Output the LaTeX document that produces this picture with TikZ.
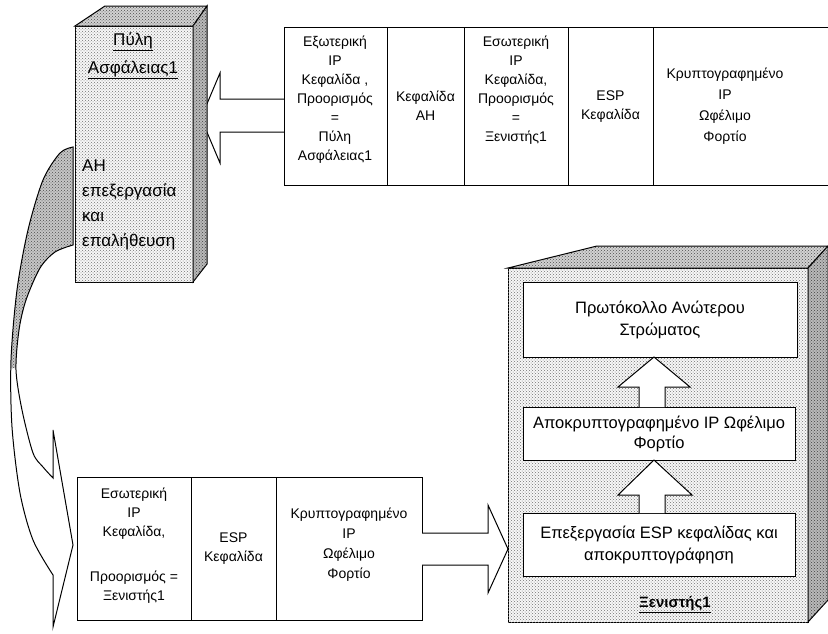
\documentclass[tikz,border=0pt]{standalone}
\usepackage{fontspec}
\setmainfont{Liberation Sans}
\usetikzlibrary{patterns,calc}
\begin{document}
\begin{tikzpicture}[x=1pt,y=-1pt,
  line join=miter,
  edge/.style={draw=black, line width=1pt},
  frontface/.style={edge, fill=gray!6, postaction={pattern=crosshatch dots, pattern color=black!55}},
  sideface/.style={edge, fill=gray!55, postaction={pattern=crosshatch dots, pattern color=black!75}},
  topface/.style={edge, fill=gray!35, postaction={pattern=crosshatch dots, pattern color=black!70}},
  ribbon/.style={fill=gray!45, postaction={pattern=crosshatch dots, pattern color=black!70}},
  cellbox/.style={draw, line width=1pt, fill=white, inner sep=0pt, outer sep=0pt},
  blockarrow/.style={edge, fill=white},
  pkt/.style={align=center, inner sep=0pt, font=\fontsize{14}{19}\selectfont},
  hosttext/.style={align=center, font=\fontsize{16.5}{22}\selectfont},
  gwtext/.style={inner sep=0pt, font=\fontsize{17}{25}\selectfont}]

\useasboundingbox (0,0) rectangle (828,633);
\fill[white] (0,0) rectangle (828,633);

% ---------- block arrow: outer packet into the gateway ----------
\filldraw[blockarrow] (284,99) -- (220,99) -- (220,73) -- (201,118)
  -- (220,163) -- (220,132) -- (284,132);

% ---------- curved ribbon arrow from the gateway down to the inner packet ----------
\newcommand\ribbonpath{plot[smooth] coordinates {(73,147) (60,153) (43,180) (28,230) (17,290) (11,360) (12,427) (20,493) (33,540) (53,575)}
  -- (53,627) -- (73,545) -- (53,430)
  -- plot[smooth] coordinates {(53,478) (43,467) (33,453) (22,410) (16,370) (19,330) (26,300) (40,268) (55,252) (73,245)} -- cycle}
\fill[white] \ribbonpath;
\begin{scope}
  \clip \ribbonpath;
  \fill[ribbon] (0,140) rectangle (80,368);
\end{scope}
\draw[line width=1pt] \ribbonpath;

% ---------- security gateway (3-D box) ----------
\node[frontface, inner sep=0pt, outer sep=0pt, minimum width=118pt, minimum height=256pt] (gw) at (134,154) {};
\filldraw[topface] (gw.north west) -- (105,6) -- (207,6) -- (gw.north east) -- cycle;
\filldraw[sideface] (gw.north east) -- (207,6) -- (207,264) -- (gw.south east) -- cycle;
\node[gwtext, align=center, font=\fontsize{17}{28}\selectfont] (gwname) at (133,56) {\underline{Πύλη}\\\underline{Ασφάλειας1}};
\node[gwtext, align=left, anchor=west] (gwproc) at (82,205) {ΑΗ\\επεξεργασία\\και\\επαλήθευση};

% ---------- outer packet (tunnel mode, AH + ESP) ----------
\node[cellbox, minimum width=103pt, minimum height=158pt] (pa1) at (335.5,106) {};
\node[cellbox, minimum width=77pt,  minimum height=158pt] (pa2) at (425.5,106) {};
\node[cellbox, minimum width=104pt, minimum height=158pt] (pa3) at (516,106) {};
\node[cellbox, minimum width=85pt,  minimum height=158pt] (pa4) at (610.5,106) {};
\coordinate (paTR) at (828,27);
\coordinate (paBR) at (828,185);
\draw[line width=1pt] (pa4.north east) -- (paTR);
\draw[line width=1pt] (pa4.south east) -- (paBR);
\node[pkt] (ta1) at (335,100) {Εξωτερική\\IP\\Κεφαλίδα ,\\Προορισμός\\=\\Πύλη\\Ασφάλειας1};
\node[pkt] (ta2) at (425.5,106) {Κεφαλίδα\\ΑΗ};
\node[pkt] (ta3) at (516,90) {Εσωτερική\\IP\\Κεφαλίδα,\\Προορισμός\\=\\Ξενιστής1};
\node[pkt] (ta4) at (610.5,107) {ESP\\Κεφαλίδα};
\node[pkt, font=\fontsize{14}{21}\selectfont] (ta5) at (725,106.5) {Κρυπτογραφημένο\\IP\\Ωφέλιμο\\Φορτίο};

% ---------- inner packet (after AH processing) ----------
\node[cellbox, minimum width=114pt, minimum height=143pt] (pb1) at (134,548.5) {};
\node[cellbox, minimum width=85pt,  minimum height=143pt] (pb2) at (233.5,548.5) {};
\node[cellbox, minimum width=146pt, minimum height=143pt] (pb3) at (349,548.5) {};
\node[pkt] (tb1) at (134,546) {Εσωτερική\\IP\\Κεφαλίδα,\\[26pt]Προορισμός =\\Ξενιστής1};
\node[pkt] (tb2) at (233.5,549) {ESP\\Κεφαλίδα};
\node[pkt, font=\fontsize{14}{20}\selectfont] (tb3) at (349,545) {Κρυπτογραφημένο\\IP\\Ωφέλιμο\\Φορτίο};

% block arrow: inner packet into the host
\filldraw[blockarrow] (422,533) -- (488,533) -- (488,505) -- (508,549)
  -- (488,593) -- (488,565) -- (422,565);

% ---------- host (3-D box) ----------
\node[frontface, inner sep=0pt, outer sep=0pt, minimum width=300pt, minimum height=354pt] (host) at (658,445) {};
\filldraw[topface] (host.north west) -- (597,246) -- (828,246) -- (host.north east) -- cycle;
\filldraw[sideface] (host.north east) -- (828,246) -- (828,600) -- (host.south east) -- cycle;

\node[cellbox, hosttext, minimum width=274pt, minimum height=75pt] (b1) at (660,319.5) {Πρωτόκολλο Ανώτερου\\Στρώματος};
\node[cellbox, hosttext, font=\fontsize{16.5}{20}\selectfont, minimum width=272pt, minimum height=53pt] (b2) at (659,433.5) {Αποκρυπτογραφημένο IP Ωφέλιμο\\Φορτίο};
\node[cellbox, hosttext, minimum width=272pt, minimum height=63pt] (b3) at (659,544.5) {Επεξεργασία ESP κεφαλίδας και\\αποκρυπτογράφηση};

% upward block arrows between the processing stages
\filldraw[blockarrow] ($(b2.north)+(-20,0)$) -- ++(0,-20) -- ++(-21,0) -- ($(b1.south)+(-6,0)$)
  -- ($(b2.north)+(31,-20)$) -- ++(-25,0) -- ($(b2.north)+(6,0)$);
\filldraw[blockarrow] ($(b3.north)+(-20,0)$) -- ++(0,-18) -- ++(-21,0) -- ($(b2.south)+(-5,0)$)
  -- ($(b3.north)+(33,-18)$) -- ++(-27,0) -- ($(b3.north)+(6,0)$);

\node[font=\fontsize{15}{18}\selectfont\bfseries] (hostname) at (675,605) {\underline{Ξενιστής1}};

\end{tikzpicture}
\end{document}
